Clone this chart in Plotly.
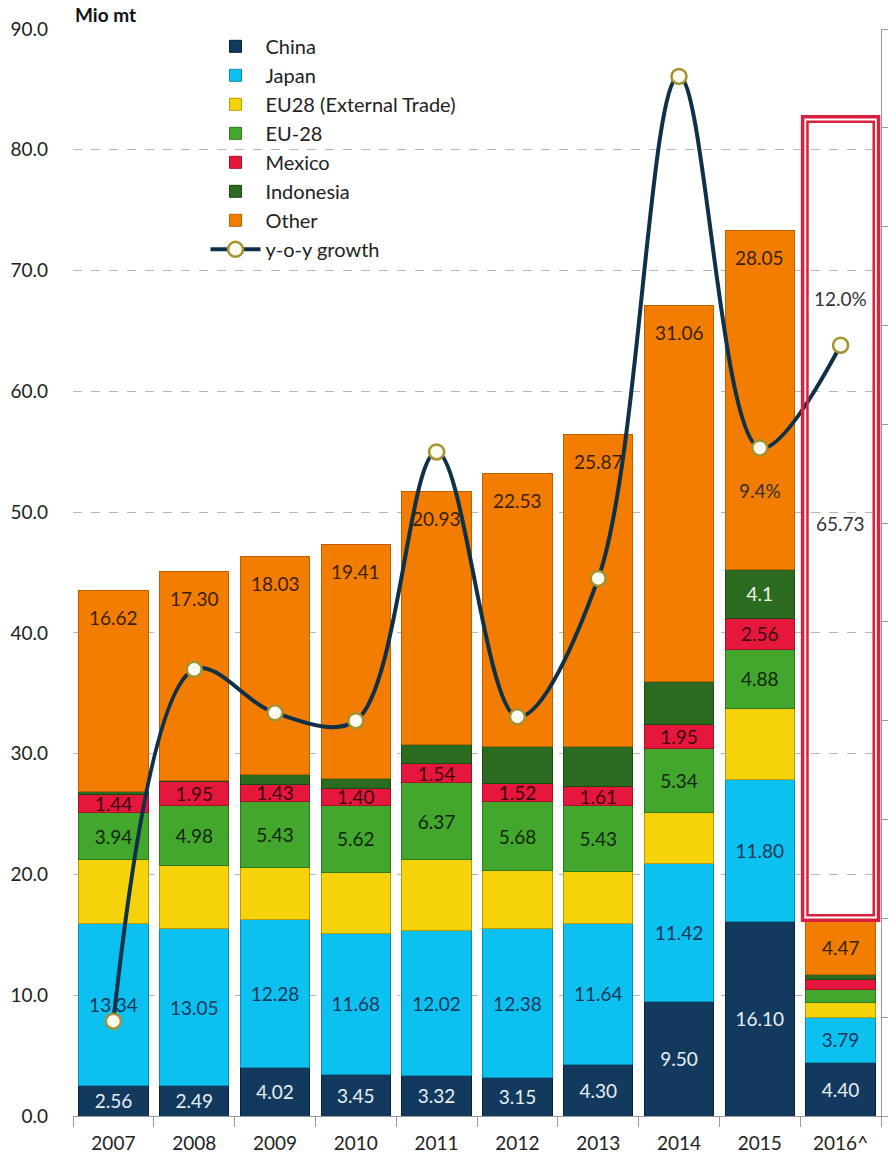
import plotly.graph_objects as go

# ---- data -------------------------------------------------------------
years = ["2007", "2008", "2009", "2010", "2011", "2012", "2013", "2014", "2015", "2016^"]

china = [2.56, 2.49, 4.02, 3.45, 3.32, 3.15, 4.30, 9.50, 16.10, 4.40]
japan = [13.34, 13.05, 12.28, 11.68, 12.02, 12.38, 11.64, 11.42, 11.80, 3.79]
eu28_external = [5.3, 5.2, 4.3, 5.0, 5.9, 4.8, 4.3, 4.2, 5.85, 1.2]
eu28 = [3.94, 4.98, 5.43, 5.62, 6.37, 5.68, 5.43, 5.34, 4.88, 1.1]
mexico = [1.44, 1.95, 1.43, 1.40, 1.54, 1.52, 1.61, 1.95, 2.56, 0.8]
indonesia = [0.3, 0.1, 0.8, 0.8, 1.6, 3.1, 3.3, 3.6, 4.1, 0.45]
other = [16.62, 17.30, 18.03, 19.41, 20.93, 22.53, 25.87, 31.06, 28.05, 4.47]

# which segments carry a value label
china_shown = [True] * 10
japan_shown = [True] * 10
eu28_external_shown = [False] * 10
eu28_shown = [True] * 9 + [False]
mexico_shown = [True] * 9 + [False]
indonesia_shown = [False] * 8 + [True, False]
other_shown = [True] * 10

yoy_growth = [-5.1, 3.8, 2.7, 2.5, 9.3, 2.6, 6.1, 18.8, 9.4, 12.0]
growth_labelled = [False] * 8 + [True, True]

remaining_2016 = 65.73


def labels(values, shown, decimals=2):
    return [f"{v:.{decimals}f}" if s else "" for v, s in zip(values, shown)]


FONT = "Lato, 'Open Sans', sans-serif"
LABEL_SIZE = 19
pos = list(range(len(years)))          # numeric slot for each year

# name, values, in-bar text, fill, edge, text colour
series = [
    ("China", china, labels(china, china_shown), "#123a5e", "#0a2035", "#e9eef4"),
    ("Japan", japan, labels(japan, japan_shown), "#0cc0ef", "#0a8cb0", "#17385a"),
    ("EU28 (External Trade)", eu28_external, labels(eu28_external, eu28_external_shown),
     "#f6d20a", "#b89c00", "#333333"),
    ("EU-28", eu28, labels(eu28, eu28_shown), "#42a72c", "#2c7a1c", "#14260c"),
    ("Mexico", mexico, labels(mexico, mexico_shown), "#e6173c", "#a80f28", "#3a0810"),
    ("Indonesia", indonesia, labels(indonesia, indonesia_shown, 1), "#2b6b1f", "#1a4a12", "#f2f5ee"),
    ("Other", other, [""] * len(other), "#f27d00", "#c05f00", "#3a2200"),
]

fig = go.Figure()

for name, vals, txt, color, edge, tcolor in series:
    fig.add_trace(go.Bar(
        name=name,
        x=pos,
        y=vals,
        text=txt,
        textposition="inside",
        insidetextanchor="middle",
        constraintext="none",
        textangle=0,
        insidetextfont=dict(family=FONT, size=LABEL_SIZE, color=tcolor),
        marker=dict(color=color, line=dict(color=edge, width=1)),
        hoverinfo="skip",
    ))

fig.add_trace(go.Scatter(
    name="y-o-y growth",
    x=pos,
    y=yoy_growth,
    yaxis="y2",
    mode="lines+markers",
    line=dict(color="#0f3049", width=4, shape="spline", smoothing=1),
    marker=dict(size=15, color="#fbfbf2", line=dict(color="#a3922f", width=2.5)),
    hoverinfo="skip",
))

totals = [sum(s[1][i] for s in series) for i in pos]

# ---- highlight box for the rest of 2016 ---------------------------------
total_2016 = totals[-1]
box_top = total_2016 + remaining_2016 + 0.8
last = pos[-1]
half = 0.47
inset_x, inset_y = 0.06, 0.42
fig.add_shape(type="rect", xref="x", yref="y",
              x0=last - half, x1=last + half, y0=total_2016, y1=box_top,
              line=dict(color="#d8213f", width=3.5), fillcolor="rgba(0,0,0,0)")
fig.add_shape(type="rect", xref="x", yref="y",
              x0=last - half + inset_x, x1=last + half - inset_x,
              y0=total_2016 + inset_y, y1=box_top - inset_y,
              line=dict(color="#d8213f", width=2.5), fillcolor="rgba(0,0,0,0)")

annotations = [
    dict(x=last, y=total_2016 + remaining_2016 / 2, xref="x", yref="y",
         text=f"{remaining_2016:.2f}", showarrow=False,
         font=dict(family=FONT, size=LABEL_SIZE, color="#333333")),
    dict(x=0, y=1, xref="paper", yref="paper", xanchor="left", yanchor="bottom",
         text="<b>Mio mt</b>", showarrow=False, yshift=1,
         font=dict(family=FONT, size=19, color="#111111")),
]
# "Other" values sit just below the top of each stack
for p, v, s, t in zip(pos, other, other_shown, totals):
    if s:
        annotations.append(dict(
            x=p, y=t, xref="x", yref="y", text=f"{v:.2f}", showarrow=False,
            yanchor="middle", yshift=-27,
            font=dict(family=FONT, size=LABEL_SIZE, color="#3a2200")))
for p, g, lab in zip(pos, yoy_growth, growth_labelled):
    if lab:
        above = p == last
        annotations.append(dict(
            x=p, y=g, xref="x", yref="y2", text=f"{g:.1f}%", showarrow=False,
            yshift=47 if above else -43,
            font=dict(family=FONT, size=LABEL_SIZE, color="#333333")))

boundaries = [p - 0.5 for p in pos] + [pos[-1] + 0.5]

fig.update_layout(
    width=893, height=1160,
    margin=dict(l=73, r=6, t=29, b=42),
    paper_bgcolor="white", plot_bgcolor="white",
    barmode="stack", bargap=0.14,
    font=dict(family=FONT, size=19, color="#222222"),
    showlegend=True,
    legend=dict(x=0.164, y=1.002, xanchor="left", yanchor="top",
                traceorder="normal", bgcolor="rgba(0,0,0,0)",
                font=dict(family=FONT, size=20, color="#222222"),
                itemwidth=50, tracegroupgap=0),
    xaxis=dict(range=[-0.5, len(years) - 0.5], tickmode="array",
               tickvals=pos, ticktext=years, ticks="", ticklabelstandoff=10,
               showline=True, linecolor="#999999", linewidth=1,
               minor=dict(tickmode="array", tickvals=boundaries, ticks="outside",
                          ticklen=10, tickcolor="#999999", showgrid=False),
               tickfont=dict(family=FONT, size=19, color="#222222"),
               showgrid=False, zeroline=False),
    yaxis=dict(range=[0, 90], dtick=10, tickformat=".1f", showgrid=True,
               gridcolor="#b5b5b5", griddash="dash", gridwidth=1, zeroline=False,
               showline=False, ticks="", ticklabelstandoff=24,
               tickfont=dict(family=FONT, size=19, color="#222222")),
    yaxis2=dict(overlaying="y", side="right", range=[-7.5, 20], dtick=2.5,
                showticklabels=False, showgrid=False, zeroline=False,
                showline=True, linecolor="#999999", linewidth=1,
                ticks="outside", ticklen=6, tickcolor="#999999"),
    annotations=annotations,
)

fig.write_html("out.html")
